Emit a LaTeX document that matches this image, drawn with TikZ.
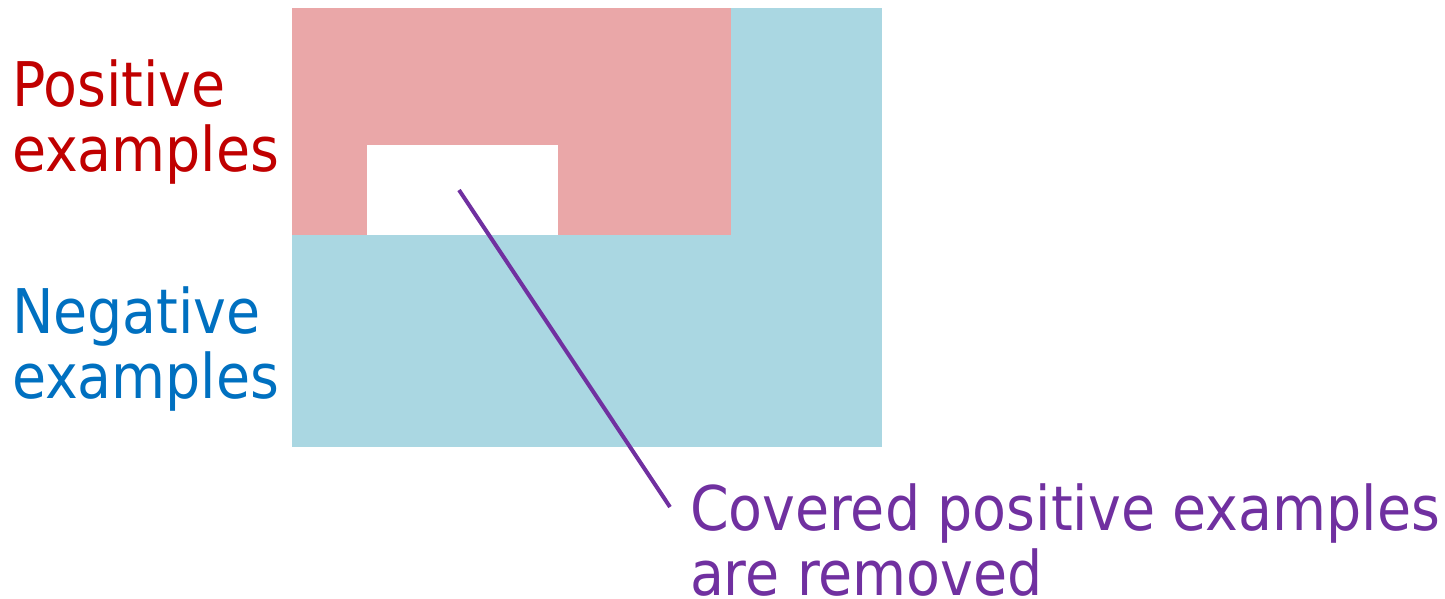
\documentclass[tikz,border=0pt]{standalone}
\usepackage{fontspec}
\setmainfont{DejaVu Sans Condensed}
\definecolor{posred}{HTML}{C00000}
\definecolor{negblue}{HTML}{0070C0}
\definecolor{covpurple}{HTML}{7030A0}
\definecolor{pinkfill}{RGB}{234,167,168}
\definecolor{bluefill}{RGB}{170,215,226}
\begin{document}
\begin{tikzpicture}[x=0.5pt,y=-0.5pt,
  lbl/.style={inner sep=0pt,outer sep=0pt,align=left,anchor=base west,
    font=\fontsize{30.8pt}{32.5pt}\selectfont},
  region/.style={draw=none}]
\useasboundingbox (0,0) rectangle (1445,599);
\fill[bluefill] (292,8) rectangle (882,447);
\fill[pinkfill] (292,8) rectangle (731,235);
\fill[white] (367,145) rectangle (558,235);
\node[lbl,text=posred] (pos) at (12,171) {Positive\\examples};
\node[lbl,text=negblue] (neg) at (12,398) {Negative\\examples};
\node[lbl,text=covpurple] (cov) at (690,595) {Covered positive examples\\are removed};
\coordinate (hole) at (459,190);
\coordinate (tip) at (670,507);
\draw[covpurple,line width=2pt] (hole) -- (tip);
\end{tikzpicture}
\end{document}
